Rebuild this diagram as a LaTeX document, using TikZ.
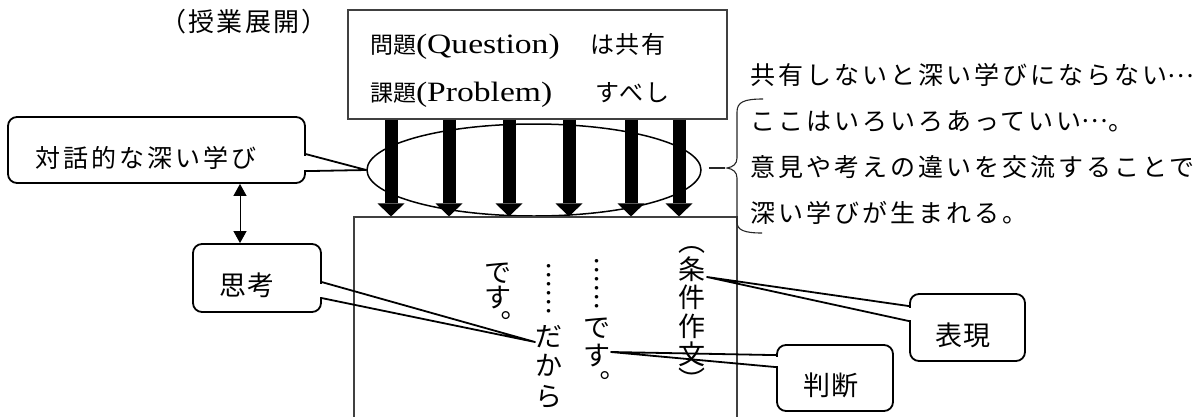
\documentclass[tikz,border=0pt]{standalone}
\usepackage{fontspec}
\usepackage{graphicx}
\usetikzlibrary{arrows.meta,shapes.geometric,calc}
\newfontfamily\cj{Noto Sans CJK JP}
\newfontfamily\cjs[LetterSpace=12]{Noto Sans CJK JP}
\newfontfamily\cjm[LetterSpace=8]{Noto Sans CJK JP}
\newfontfamily\cjn[LetterSpace=4]{Noto Sans CJK JP}
\newfontfamily\lat[FakeStretch=1.2]{Liberation Serif}
\newcommand\vc[1]{\raisebox{0pt}[0.88em][0.12em]{\makebox[1em]{#1}}}
\newcommand\hell{\raisebox{0.3em}{…}}
\newcommand\ptrwedge[3]{%
  \fill[white] ($(#1)+(-2.5,1.5)$) rectangle ($(#2)+(2.5,-1.5)$);
  \draw[cline] (#1) -- (#3) -- (#2);}
\begin{document}
\begin{tikzpicture}[x=1pt,y=-1pt,
  thinline/.style={line width=1.1pt, draw=black!85},
  boxline/.style={draw=black!75, line width=1.1pt, inner sep=0},
  cbox/.style={draw, line width=1.8pt, rounded corners=9pt, inner sep=0},
  cline/.style={line width=1.8pt, line join=round},
  bigarrow/.style={line width=13pt, -{Triangle[width=27pt,length=13pt,line width=0pt]}},
  dblarrow/.style={line width=1pt, {Triangle[width=13pt,length=12pt]}-{Triangle[width=13pt,length=12pt]}},
  txt/.style={inner sep=0, outer sep=0},
  rtext/.style={inner sep=0, outer sep=0, anchor=west, font=\cjs\fontsize{25}{28}\selectfont},
  vch/.style={inner sep=0, outer sep=0, font=\cj\fontsize{27}{28}\selectfont},
  ctext/.style={inner sep=0, outer sep=0, font=\cjn\fontsize{27}{28}\selectfont},
]
\useasboundingbox (0,0) rectangle (1203,416);

% heading
\node[txt, font=\cjm\fontsize{26}{28}\selectfont] (head) at (244,22) {（授業展開）};

% ellipse
\node[draw, ellipse, line width=1.5pt, minimum width=334pt, minimum height=92pt, inner sep=0] (ell) at (534,170) {};

% boxes
\node[boxline, minimum width=379pt, minimum height=109pt] (qbox) at (537.5,64.5) {};
\node[boxline, minimum width=383pt, minimum height=243pt] (ans) at (545.5,338.5) {};

% big arrows
\foreach \x [count=\i] in {391,449,509,569,631,679} {
  \coordinate (ax\i) at (\x,0);
  \draw[bigarrow] (ax\i |- qbox.south) -- (ax\i |- ans.north);
}

% top box text
\node[txt, anchor=base west] (q1) at (370,53) {\makebox[220pt][l]{{\cj\fontsize{23}{26}\selectfont 問題}{\lat\fontsize{28}{30}\selectfont (Question)}}{\cjm\fontsize{24}{26}\selectfont は共有}};
\node[txt, anchor=base west] (q2) at (370,101) {\makebox[225pt][l]{{\cj\fontsize{23}{26}\selectfont 課題}{\lat\fontsize{28}{30}\selectfont (Problem)}}{\cjm\fontsize{24}{26}\selectfont すべし}};

% right text
\node[rtext] (r1) at (750,75) {共有しないと深い学びにならない\hell};
\node[rtext] (r2) at (750,121) {ここはいろいろあっていい\hell 。};
\node[rtext] (r3) at (750,167) {意見や考えの違いを交流することで};
\node[rtext] (r4) at (750,213) {深い学びが生まれる。};

% brace and stub
\coordinate (bracetip) at (725,168);
\draw[thinline] (763,99) .. controls (744,99) and (737,102) .. (737,112) -- (737,158)
  .. controls (737,164) and (733,167) .. (727,168)
  .. controls (733,169) and (737,172) .. (737,178) -- (737,222)
  .. controls (737,230) and (744,233) .. (762,233);
\draw[thinline] ($(ell.east)+(7,-2)$) -- (bracetip);

% vertical text columns (cell centres)
\node[vch] (c1a) at (692,241) {\vc{︵}};
\node[vch] (c1b) at (692,269) {\vc{条}};
\node[vch] (c1c) at (692,297.5) {\vc{件}};
\node[vch] (c1d) at (692,326) {\vc{作}};
\node[vch] (c1e) at (692,354.5) {\vc{文}};
\node[vch] (c1f) at (692,380) {\vc{︶}};

\node[vch] (c2a) at (597,270) {\vc{︙}};
\node[vch] (c2b) at (597,297) {\vc{︙}};
\node[vch] (c2c) at (597,327) {\vc{で}};
\node[vch] (c2d) at (597,355) {\vc{す}};
\node[vch] (c2e) at (597,383) {\vc{︒}};

\node[vch] (c3a) at (549,275) {\vc{︙}};
\node[vch] (c3b) at (549,302) {\vc{︙}};
\node[vch] (c3c) at (549,336) {\vc{だ}};
\node[vch] (c3d) at (549,365) {\vc{か}};
\node[vch] (c3e) at (549,396) {\vc{ら}};

\node[vch] (c4a) at (498,272) {\vc{で}};
\node[vch] (c4b) at (498,297) {\vc{す}};
\node[vch] (c4c) at (498,323) {\vc{︒}};

% callouts
\node[cbox, minimum width=297pt, minimum height=66pt] (dlg) at (156.5,150) {};
\node[txt, font=\cjs\fontsize{25}{28}\selectfont] (dlgt) at (146,158) {対話的な深い学び};
\node[cbox, minimum width=128pt, minimum height=68pt] (thk) at (257,278) {};
\node[ctext] (thkt) at (247,285) {思考};
\node[cbox, minimum width=115pt, minimum height=67pt] (hyo) at (967.5,327.5) {};
\node[ctext] (hyot) at (963,335) {表現};
\node[cbox, minimum width=116pt, minimum height=66pt] (han) at (835,378) {};
\node[ctext] (hant) at (831,385) {判断};

\coordinate (thkTip) at (535,342);
\coordinate (hyoTip) at (707,277);
\coordinate (hanTip) at (611,352);
\coordinate (dlgA) at ($(dlg.north east)+(0,38)$);
\coordinate (dlgB) at ($(dlg.north east)+(0,55)$);
\coordinate (thkA) at ($(thk.north east)+(0,39)$);
\coordinate (thkB) at ($(thk.north east)+(0,55)$);
\coordinate (hyoA) at ($(hyo.north west)+(0,13)$);
\coordinate (hyoB) at ($(hyo.north west)+(0,28)$);
\coordinate (hanA) at ($(han.north west)+(0,11)$);
\coordinate (hanB) at ($(han.north west)+(0,23)$);
\ptrwedge{dlgA}{dlgB}{ell.west}
\ptrwedge{thkA}{thkB}{thkTip}
\ptrwedge{hyoA}{hyoB}{hyoTip}
\ptrwedge{hanA}{hanB}{hanTip}

% double arrow
\coordinate (dax) at (240,0);
\draw[dblarrow] (dax |- dlg.south) -- (dax |- thk.north);
\end{tikzpicture}
\end{document}
